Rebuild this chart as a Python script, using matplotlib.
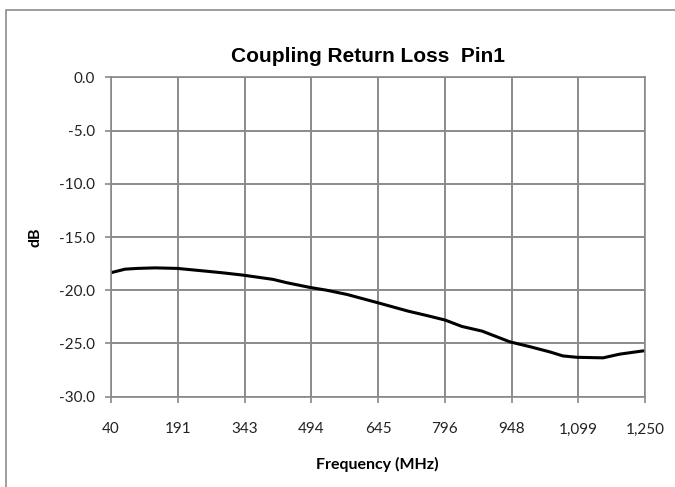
import matplotlib
matplotlib.use("Agg")
import matplotlib.pyplot as plt
from matplotlib.patches import Rectangle

# Data
freq_mhz = [42, 72, 100, 140, 190, 253, 292, 339, 407, 439, 491, 529, 575,
            645, 713, 758, 797, 835, 881, 944, 989, 1035, 1064, 1096, 1155,
            1193, 1245, 1250]
return_loss_db = [-18.33, -18.02, -17.95, -17.9, -17.95, -18.2, -18.36, -18.58,
                  -18.98, -19.3, -19.74, -20.0, -20.4, -21.18, -21.96, -22.4,
                  -22.8, -23.4, -23.84, -24.85, -25.3, -25.8, -26.17, -26.3,
                  -26.35, -26.0, -25.7, -25.7]
x_ticks = [40, 191, 343, 494, 645, 796, 948, 1099, 1250]
y_ticks = [0, -5, -10, -15, -20, -25, -30]

W, H = 675, 487
fig = plt.figure(figsize=(W / 100, H / 100), dpi=100)

# outer chart border (cropped at right/bottom)
fig.patches.append(Rectangle((6 / W, -0.05), 1.2, 1 - 10 / H + 0.05,
                             transform=fig.transFigure, fill=False,
                             edgecolor="#8c8c8c", linewidth=1.2))

ax = fig.add_axes([111 / W, 1 - 396.7 / H, (645 - 111) / W, (396.7 - 77.3) / H])
grid_c = "#8a8a8a"
ax.plot(freq_mhz, return_loss_db, color="black", linewidth=2.2, solid_capstyle="round")

ax.set_xlim(40, 1250)
ax.set_ylim(-30, 0)
ax.set_xticks(x_ticks)
ax.set_xticklabels([f"{v:,}" for v in x_ticks])
ax.set_yticks(y_ticks)
ax.set_yticklabels([f"{v:.1f}" for v in y_ticks])
ax.grid(True, color=grid_c, linewidth=1.4)
ax.set_axisbelow(True)
for s in ax.spines.values():
    s.set_color(grid_c)
    s.set_linewidth(1.2)
ax.tick_params(axis="both", colors=grid_c, labelcolor="#222222", length=4.5,
               width=1.2, labelsize=11)
ax.tick_params(axis="x", pad=14)
ax.tick_params(axis="y", pad=7)
for lab in ax.get_xticklabels() + ax.get_yticklabels():
    lab.set_family("Lato")

fig.text(368 / W, 1 - 57 / H, "Coupling Return Loss  Pin1", ha="center", va="center",
         fontsize=15, fontweight="bold", family="Liberation Sans")
fig.text(377 / W, 1 - 464 / H, "Frequency (MHz)", ha="center", va="center",
         fontsize=11.5, fontweight="bold", family="Lato")
fig.text(35 / W, 1 - 237 / H, "dB", ha="center", va="center", rotation=90,
         fontsize=11.5, fontweight="bold", family="Lato")

fig.savefig("out.png", dpi=100, facecolor="white")
